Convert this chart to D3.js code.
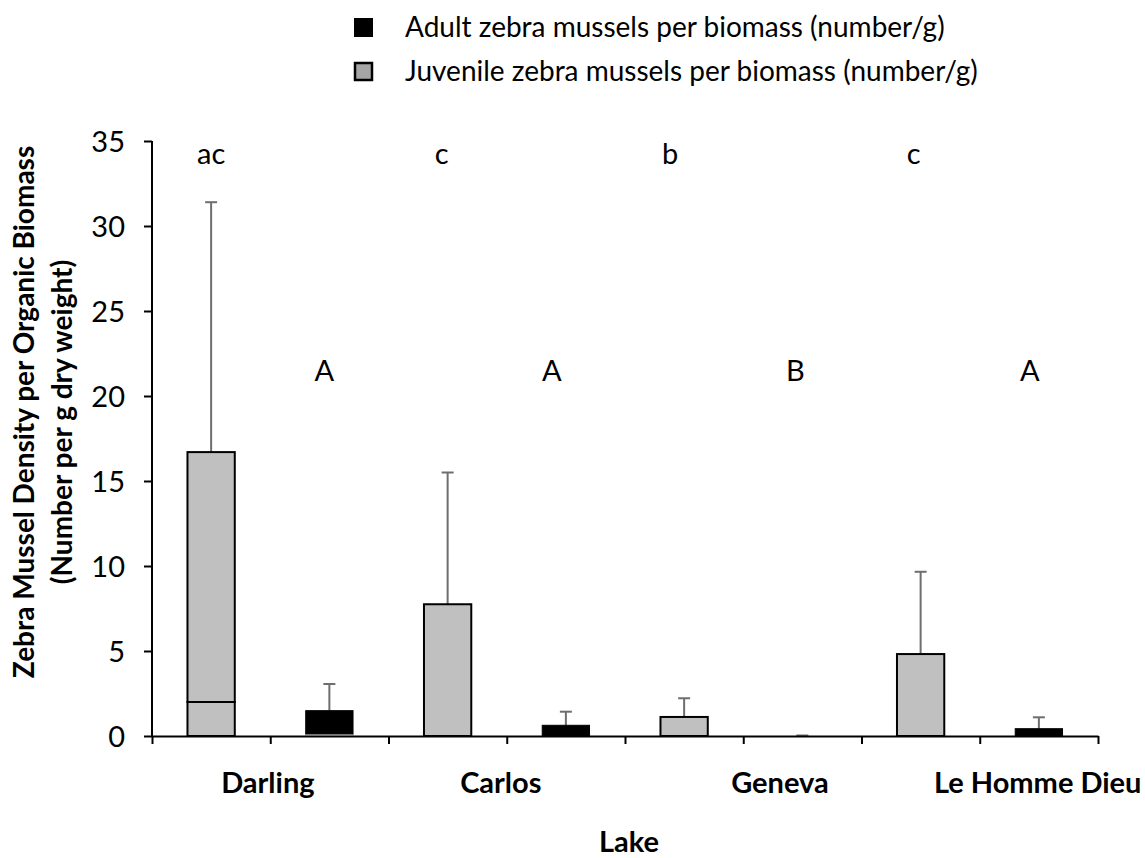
<!DOCTYPE html>
<html>
<head>
<meta charset="utf-8">
<script src="https://cdn.jsdelivr.net/npm/d3@7/dist/d3.min.js"></script>
<style>
  html, body { margin: 0; padding: 0; background: #fff; }
  svg { display: block; }
  text { font-family: Lato, "Open Sans", sans-serif; fill: #000; }
</style>
</head>
<body>
<svg id="chart" width="1145" height="858"></svg>
<script>
// ---- data ----
const lakes = ["Darling", "Carlos", "Geneva", "Le Homme Dieu"];
const juvenileMean  = [16.7, 7.75, 1.12, 4.82];
const juvenileUpper = [31.4, 15.5, 2.22, 9.66];
const juvenileBase  = [2.0, 0, 0, 0];        // internal segment line
const adultMean     = [1.49, 0.63, 0.0, 0.43];
const adultUpper    = [3.06, 1.43, 0.03, 1.1];
const adultBase     = [0.12, 0, 0, 0];       // white base segment
const juvenileLetters = ["ac", "c", "b", "c"];
const adultLetters    = ["A", "A", "B", "A"];
const yTickValues = [0, 5, 10, 15, 20, 25, 30, 35];
const seriesNames = ["Adult zebra mussels per biomass (number/g)",
                     "Juvenile zebra mussels per biomass (number/g)"];

(function () {
// ---- layout ----
const svg = d3.select("#chart");
const pL = 152, pR = 1098, pT = 141, pB = 736;
const slots = [];
lakes.forEach(l => { slots.push(l + "|J"); slots.push(l + "|A"); });

const x = d3.scaleBand().domain(slots).range([pL, pR])
  .paddingInner(0.6).paddingOuter(0.3);
const slotLin = d3.scaleLinear().domain([0, slots.length]).range([pL, pR]);
const y = d3.scaleLinear().domain([0, 35]).range([pB, pT]);

const gray = "#c0c0c0";
const errColor = "#6e6e6e";

const bars = [];
lakes.forEach((l, i) => {
  bars.push({key: l + "|J", base: juvenileBase[i], mean: juvenileMean[i], upper: juvenileUpper[i], type: "J"});
  bars.push({key: l + "|A", base: adultBase[i], mean: adultMean[i], upper: adultUpper[i], type: "A"});
});

// error bars (behind bars)
const cap = 12;
const eb = svg.append("g");
bars.forEach(b => {
  const cx = x(b.key) + x.bandwidth() / 2;
  eb.append("line").attr("x1", cx).attr("x2", cx)
    .attr("y1", y(b.mean)).attr("y2", y(b.upper))
    .attr("stroke", errColor).attr("stroke-width", 2);
  eb.append("line").attr("x1", cx - cap / 2).attr("x2", cx + cap / 2)
    .attr("y1", y(b.upper)).attr("y2", y(b.upper))
    .attr("stroke", errColor).attr("stroke-width", 2);
});

const bg = svg.append("g");
bars.forEach(b => {
  if (b.mean <= 0) return;
  const bx = x(b.key), bw = x.bandwidth();
  if (b.type === "J") {
    if (b.base > 0) {
      bg.append("rect").attr("x", bx).attr("width", bw)
        .attr("y", y(b.base)).attr("height", y(0) - y(b.base))
        .attr("fill", gray).attr("stroke", "#000").attr("stroke-width", 2);
    }
    bg.append("rect").attr("x", bx).attr("width", bw)
      .attr("y", y(b.mean)).attr("height", y(b.base) - y(b.mean))
      .attr("fill", gray).attr("stroke", "#000").attr("stroke-width", 2);
  } else {
    if (b.base > 0) {
      bg.append("rect").attr("x", bx).attr("width", bw)
        .attr("y", y(b.base)).attr("height", y(0) - y(b.base))
        .attr("fill", "#fff").attr("stroke", "#bbb").attr("stroke-width", 1);
    }
    bg.append("rect").attr("x", bx).attr("width", bw)
      .attr("y", y(b.mean)).attr("height", y(b.base) - y(b.mean))
      .attr("fill", "#000").attr("stroke", "#000").attr("stroke-width", 1);
  }
});

// axes
const yAxis = d3.axisLeft(y).tickValues(yTickValues).tickSize(8).tickPadding(19);
const gy = svg.append("g").attr("transform", `translate(${pL},0)`).call(yAxis);
gy.select(".domain").attr("stroke", "#000").attr("stroke-width", 2)
  .attr("d", `M0,${pT}V${pB}`);
gy.selectAll(".tick line").attr("stroke", "#000").attr("stroke-width", 2);
gy.selectAll(".tick text").style("font-family", "Lato").style("font-size", "29px")
  .attr("fill", "#000").attr("dy", "0.36em");

const xAxis = d3.axisBottom(slotLin).tickValues(d3.range(slots.length + 1))
  .tickFormat("").tickSize(8).tickSizeOuter(0);
const gx = svg.append("g").attr("transform", `translate(0,${pB})`).call(xAxis);
gx.select(".domain").attr("stroke", "#000").attr("stroke-width", 2);
gx.selectAll(".tick line").attr("stroke", "#000").attr("stroke-width", 2);

// lake labels (manually placed text boxes in the original)
const lakeLabelSlot = [0.98, 2.95, 5.31, 7.49];
lakes.forEach((l, i) => {
  svg.append("text").attr("x", slotLin(lakeLabelSlot[i])).attr("y", 793)
    .attr("text-anchor", "middle").style("font-weight", "bold").style("font-size", "29px")
    .text(l);
});
svg.append("text").attr("x", 629).attr("y", 852).attr("text-anchor", "middle")
  .style("font-weight", "bold").style("font-size", "29px").text("Lake");

// y title
const yt = svg.append("g").attr("transform", "translate(0,412) rotate(-90)");
yt.append("text").attr("x", 0).attr("y", 34).attr("text-anchor", "middle")
  .style("font-weight", "bold").style("font-size", "28px")
  .text("Zebra Mussel Density per Organic Biomass");
yt.append("text").attr("x", -10).attr("y", 72).attr("text-anchor", "middle")
  .style("font-weight", "bold").style("font-size", "28px")
  .text("(Number per g dry weight)");

// significance letters (small manual offsets as in the original text boxes)
const lowOff = [0, -6, -14, -7], upOff = [-5, -14, -7, -9];
lakes.forEach((l, i) => {
  svg.append("text").attr("x", x(l + "|J") + x.bandwidth() / 2 + lowOff[i]).attr("y", 164)
    .attr("text-anchor", "middle").style("font-size", "29px").text(juvenileLetters[i]);
  svg.append("text").attr("x", x(l + "|A") + x.bandwidth() / 2 + upOff[i]).attr("y", 381)
    .attr("text-anchor", "middle").style("font-size", "29px").text(adultLetters[i]);
});

// legend
const lg = svg.append("g");
lg.append("rect").attr("x", 354).attr("y", 18).attr("width", 19).attr("height", 19)
  .attr("fill", "#000");
lg.append("rect").attr("x", 355).attr("y", 63).attr("width", 17).attr("height", 17)
  .attr("fill", "#a6a6a6").attr("stroke", "#000").attr("stroke-width", 2.5);
lg.append("text").attr("x", 405).attr("y", 37).style("font-size", "28px").text(seriesNames[0]);
lg.append("text").attr("x", 405).attr("y", 81).style("font-size", "28px").text(seriesNames[1]);
})();
</script>
</body>
</html>
